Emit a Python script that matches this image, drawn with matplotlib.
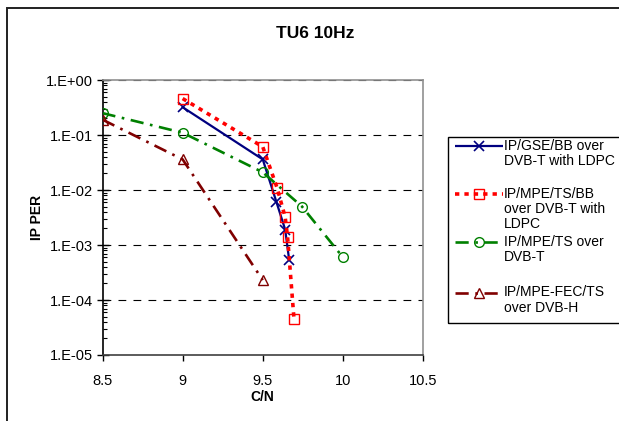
import numpy as np
import matplotlib
matplotlib.use('Agg')
import matplotlib.pyplot as plt
from matplotlib.lines import Line2D
from matplotlib.patches import Rectangle
from matplotlib.ticker import FuncFormatter, LogLocator, NullFormatter

plt.rcParams['font.family'] = ['Liberation Sans', 'DejaVu Sans']

# data
gse_cn = [9.0, 9.5, 9.585, 9.64, 9.665]
gse_per = [0.32, 0.036, 0.0061, 0.0019, 0.00053]

mpe_bb_cn = [9.0, 9.5, 9.59, 9.64, 9.655, 9.695]
mpe_bb_per = [0.46, 0.061, 0.0108, 0.0032, 0.00138, 0.000045]

mpe_ts_cn = [8.5, 9.0, 9.5, 9.745, 10.0]
mpe_ts_per = [0.25, 0.11, 0.021, 0.005, 0.0006]

fec_cn = [8.5, 9.0, 9.5]
fec_per = [0.19, 0.036, 0.00023]

labels = ['IP/GSE/BB over\nDVB-T with LDPC',
          'IP/MPE/TS/BB\nover DVB-T with\nLDPC',
          'IP/MPE/TS over\nDVB-T',
          'IP/MPE-FEC/TS\nover DVB-H']

W, H = 619, 421
fig = plt.figure(figsize=(W / 100, H / 100), dpi=100)
ax = fig.add_axes([102.5 / W, 1 - 355 / H, 320.5 / W, 275 / H])

def px(x, y):
    return x / W, 1 - y / H

styles = [
    dict(color='#000080', ls='-', lw=1.6, marker='x', ms=7, mew=1.2),
    dict(color='#FF0000', ls=(0, (1.2, 1.4)), lw=2.6, marker='s', ms=7, mew=1.0, mfc='none'),
    dict(color='#008000', ls=(0, (5, 2.5, 1, 2.5)), lw=1.9, marker='o', ms=7, mew=1.0, mfc='none'),
    dict(color='#800000', ls=(0, (5, 2.5, 1, 2.5)), lw=1.9, marker='^', ms=7, mew=1.0, mfc='none'),
]
series = [(gse_cn, gse_per), (mpe_bb_cn, mpe_bb_per), (mpe_ts_cn, mpe_ts_per), (fec_cn, fec_per)]

for (x, y), st in zip(series, styles):
    ax.plot(x, y, zorder=3, **st)

ax.set_yscale('log')
ax.set_ylim(1e-5, 1)
ax.set_xlim(8.5, 10.5)
ax.set_xticks(np.arange(8.5, 10.51, 0.5))
ax.set_xticklabels(['8.5', '9', '9.5', '10', '10.5'])
ax.yaxis.set_major_locator(LogLocator(base=10, numticks=10))
ax.yaxis.set_minor_locator(LogLocator(base=10, subs=np.arange(2, 10), numticks=20))
ax.yaxis.set_minor_formatter(NullFormatter())
ax.yaxis.set_major_formatter(FuncFormatter(lambda v, p: '1.E%+03d' % round(np.log10(v))))

for e in [1, 0.1, 0.01, 1e-3, 1e-4]:
    ax.axhline(e, color='black', lw=0.8, ls=(0, (7, 6.5)), zorder=1)

ax.tick_params(axis='y', which='major', direction='inout', length=8, width=1, labelsize=10.5, pad=3)
ax.tick_params(axis='y', which='minor', direction='in', length=3, width=0.8)
ax.tick_params(axis='x', which='major', direction='out', length=4, width=1, labelsize=10.5, pad=10)

ax.spines['left'].set_color('black')
ax.spines['bottom'].set_color('#404040')
ax.spines['top'].set_color('#909090')
ax.spines['right'].set_color('#909090')
for s in ax.spines.values():
    s.set_linewidth(1.2)

fig.text(*px(37, 217), 'IP PER', rotation=90, ha='center', va='center', fontsize=10, fontweight='bold')
fig.text(*px(262.5, 397), 'C/N', ha='center', va='center', fontsize=10, fontweight='bold')
fig.text(*px(315.5, 33), 'TU6 10Hz', ha='center', va='center', fontsize=12.5, fontweight='bold')

# outer chart frame
fig.patches.append(Rectangle(px(7, 430), 700 / W, 422 / H, transform=fig.transFigure,
                             fill=False, ec='#202020', lw=1.4))

# legend box
lx0, ly0, lx1, ly1 = 447.5, 137, 640, 323
fig.patches.append(Rectangle(px(lx0, ly1), (lx1 - lx0) / W, (ly1 - ly0) / H,
                             transform=fig.transFigure, fill=False, ec='black', lw=1.0))
rows = [146, 194, 242, 293]
for st, lab, yy in zip(styles, labels, rows):
    hx = [455 / W, 503 / W]
    hy = [1 - yy / H] * 2
    fig.lines.append(Line2D(hx, hy, transform=fig.transFigure, color=st['color'], ls=st['ls'],
                            lw=st['lw'], solid_capstyle='butt'))
    fig.lines.append(Line2D([479 / W], [1 - yy / H], transform=fig.transFigure, ls='none',
                            color=st['color'], marker=st['marker'], ms=st['ms'], mew=st['mew'],
                            mfc=st.get('mfc', st['color'])))
    fig.text(*px(504, yy - 7.5), lab, ha='left', va='top', fontsize=10, linespacing=1.12)

fig.savefig('out.png', dpi=100)
